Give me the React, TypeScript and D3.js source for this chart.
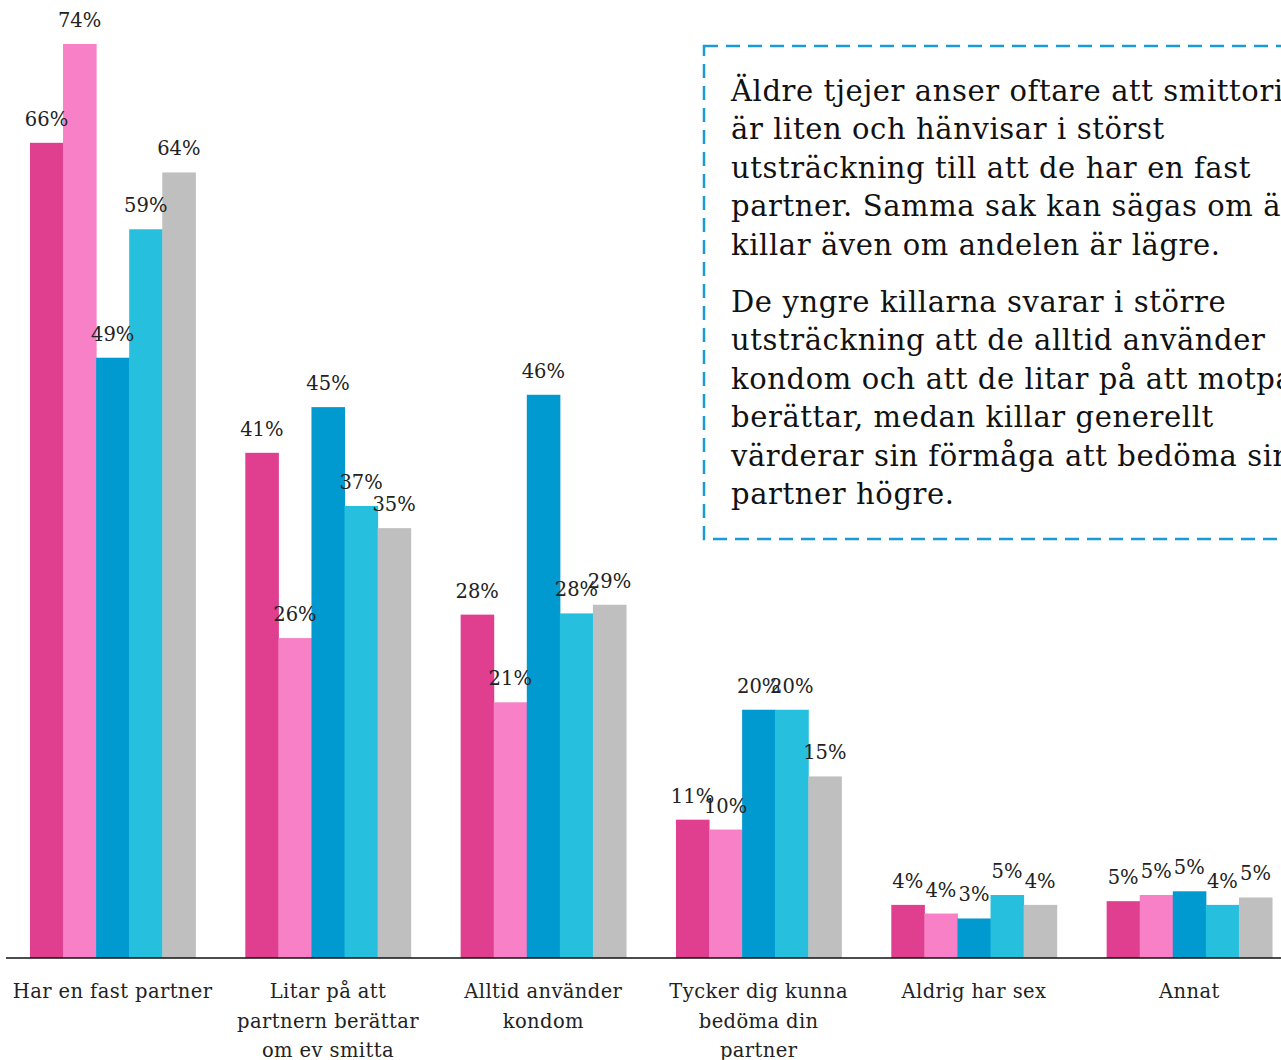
import React from "react";
import * as d3 from "d3";

const categories: string[] = [
  "Har en fast partner",
  "Litar på att|partnern berättar|om ev smitta",
  "Alltid använder|kondom",
  "Tycker dig kunna|bedöma din|partner",
  "Aldrig har sex",
  "Annat",
];

const seriesNames: string[] = ["Serie 1", "Serie 2", "Serie 3", "Serie 4", "Serie 5"];
const seriesColors: string[] = ["#E03E8F", "#F780C6", "#0099D0", "#26C0DE", "#BFBFBF"];

const series1: number[] = [66.0, 40.9, 27.8, 11.2, 4.3, 4.6];
const series2: number[] = [74.0, 25.9, 20.7, 10.4, 3.6, 5.1];
const series3: number[] = [48.6, 44.6, 45.6, 20.1, 3.2, 5.4];
const series4: number[] = [59.0, 36.6, 27.9, 20.1, 5.1, 4.3];
const series5: number[] = [63.6, 34.8, 28.6, 14.7, 4.3, 4.9];
const seriesValues: number[][] = [series1, series2, series3, series4, series5];

const paragraph1: string[] = [
  "Äldre tjejer anser oftare att smittorisken",
  "är liten och hänvisar i störst",
  "utsträckning till att de har en fast",
  "partner. Samma sak kan sägas om äldre",
  "killar även om andelen är lägre.",
];
const paragraph2: string[] = [
  "De yngre killarna svarar i större",
  "utsträckning att de alltid använder",
  "kondom och att de litar på att motparten",
  "berättar, medan killar generellt",
  "värderar sin förmåga att bedöma sin",
  "partner högre.",
];

const W = 1281;
const H = 1060;
const FONT = "'DejaVu Serif', serif";

export default function App() {
  const baseY = 958;
  const x0 = d3
    .scaleBand<string>()
    .domain(categories)
    .range([5, 1297])
    .paddingInner(0.232)
    .paddingOuter(0.116);
  const x1 = d3
    .scaleBand<string>()
    .domain(seriesNames)
    .range([0, x0.bandwidth()]);
  const y = d3.scaleLinear().domain([0, 74]).range([baseY, 44]);

  return (
    <svg
      width={W}
      height={H}
      style={{ position: "absolute", left: 0, top: 0, background: "#fff" }}
      fontFamily={FONT}
    >
      {categories.map((cat, ci) => (
        <g key={cat} transform={`translate(${x0(cat)},0)`}>
          {seriesNames.map((s, si) => {
            const v = seriesValues[si][ci];
            const bx = x1(s)!;
            return (
              <rect
                key={s}
                x={bx}
                y={y(v)}
                width={x1.bandwidth() + 0.5}
                height={baseY - y(v)}
                fill={seriesColors[si]}
              />
            );
          })}
          {seriesNames.map((s, si) => {
            const v = seriesValues[si][ci];
            const bx = x1(s)!;
            return (
              <text
                key={s}
                x={bx + x1.bandwidth() / 2}
                y={y(v) - 17}
                textAnchor="middle"
                fontSize={19.5}
                fill="#222"
              >
                {Math.round(v)}%
              </text>
            );
          })}
          {cat.split("|").map((line, li) => (
            <text
              key={li}
              x={x0.bandwidth() / 2}
              y={998 + li * 29.5}
              textAnchor="middle"
              fontSize={19.5}
              letterSpacing={0.4}
              fill="#222"
            >
              {line}
            </text>
          ))}
        </g>
      ))}
      <line x1={6} x2={W} y1={baseY} y2={baseY} stroke="#111" strokeWidth={1.5} />
      <rect
        x={704}
        y={46}
        width={700}
        height={493}
        fill="none"
        stroke="#1A9AD6"
        strokeWidth={2.5}
        strokeDasharray="14,8"
      />
      {paragraph1.map((line, i) => (
        <text key={"p1" + i} x={731} y={101 + i * 38.4} fontSize={29} letterSpacing={0.6} fill="#111">
          {line}
        </text>
      ))}
      {paragraph2.map((line, i) => (
        <text key={"p2" + i} x={731} y={312 + i * 38.4} fontSize={29} letterSpacing={0.6} fill="#111">
          {line}
        </text>
      ))}
    </svg>
  );
}
